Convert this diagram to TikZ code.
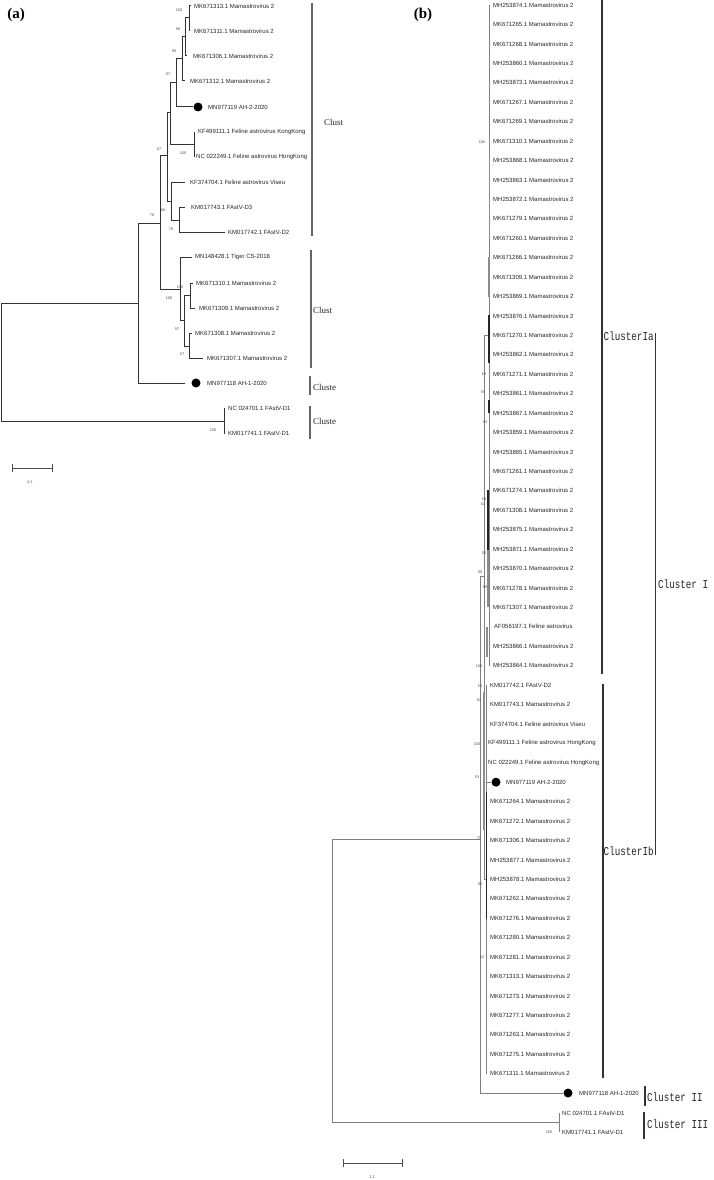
\documentclass[tikz,border=0pt]{standalone}
\usepackage{fontspec}
\newfontfamily\lsans{Liberation Sans}
\newfontfamily\lserif{Liberation Serif}
\newfontfamily\lmono[FakeStretch=0.77]{Liberation Mono}
\begin{document}
\begin{tikzpicture}[x=1pt,y=-1pt,
  lab/.style={anchor=west, inner sep=0pt, font=\lsans\fontsize{6}{7}\selectfont, text=black!85},
  bs/.style={inner sep=0pt, font=\lsans\fontsize{3.8}{4}\selectfont, text=black!70},
  ta/.style={line width=1pt, draw=black!80},
  tb/.style={line width=0.5pt, draw=black!50},
  segd/.style={line width=1.2pt, draw=black!85},
  segg/.style={line width=1.4pt, draw=black!45},
  cbarA/.style={line width=1.3pt, draw=black!60},
  cbarB/.style={line width=1.4pt, draw=black!80},
  clA/.style={anchor=west, inner sep=0pt, font=\lserif\fontsize{9}{10}\selectfont, text=black!85},
  clB/.style={anchor=west, inner sep=0pt, font=\lmono\fontsize{12}{13}\selectfont, text=black!85},
  dotn/.style={circle, fill=black, inner sep=0pt, minimum size=9pt},
  panel/.style={inner sep=0pt, font=\lserif\bfseries\fontsize{15}{16}\selectfont},
  scl/.style={line width=0.7pt, draw=black!70}]
\useasboundingbox (0,0) rectangle (713,1180);
\fill[white] (0,0) rectangle (713,1180);

% ---------------- panel (a) ----------------
\node[panel] (pa) at (16,15) {(a)};

% leaf tips
\coordinate (a1) at (191,6);
\coordinate (a2) at (190,31);
\coordinate (a3) at (187,56);
\coordinate (a4) at (185,81);
\coordinate (a6) at (194,132);
\coordinate (a7) at (194,157);
\coordinate (a8) at (185,182);
\coordinate (a9) at (185,207);
\coordinate (a10) at (225,232);
\coordinate (a11) at (192,257);
\coordinate (a12) at (193,283);
\coordinate (a13) at (195,308);
\coordinate (a14) at (192,333);
\coordinate (a15) at (203,358);
\coordinate (a16) at (185,383);
\coordinate (a17) at (225,408);
\coordinate (a18) at (225,433);
\node[dotn] (a5d) at (198,107) {};
\node[dotn] (a16d) at (196,383) {};

% labels
\node[lab] (ta1) at (194,6) {MK671313.1 Mamastrovirus 2};
\node[lab] (ta2) at (194,31) {MK671311.1 Mamastrovirus 2};
\node[lab] (ta3) at (193,56) {MK671306.1 Mamastrovirus 2};
\node[lab] (ta4) at (190,81) {MK671312.1 Mamastrovirus 2};
\node[lab] (ta5) at (208,107) {MN977119 AH-2-2020};
\node[lab] (ta6) at (198,132) {KF499111.1 Feline astrovirus KongKong};
\node[lab] (ta7) at (196,157) {NC 022249.1 Feline astrovirus HongKong};
\node[lab] (ta8) at (190,182) {KF374704.1 Feline astrovirus Viseu};
\node[lab] (ta9) at (191,207) {KM017743.1 FAstV-D3};
\node[lab] (ta10) at (228,232) {KM017742.1 FAstV-D2};
\node[lab] (ta11) at (195,257) {MN148428.1 Tiger CS-2018};
\node[lab] (ta12) at (196,283) {MK671310.1 Mamastrovirus 2};
\node[lab] (ta13) at (199,308) {MK671309.1 Mamastrovirus 2};
\node[lab] (ta14) at (195,333) {MK671308.1 Mamastrovirus 2};
\node[lab] (ta15) at (207,358) {MK671307.1 Mamastrovirus 2};
\node[lab] (ta16) at (207,383) {MN977118 AH-1-2020};
\node[lab] (ta17) at (228,408) {NC 024701.1 FAstV-D1};
\node[lab] (ta18) at (228,433) {KM017741.1 FAstV-D1};

% internal nodes
\coordinate (aR) at (1,303);
\coordinate (aA) at (138,303);
\coordinate (aD1) at (224,421);
\coordinate (aB) at (160,223);
\coordinate (aC) at (167,155);
\coordinate (aH) at (180,289);
\coordinate (aD) at (170,113);
\coordinate (aG) at (171,201);
\coordinate (aE) at (176,83);
\coordinate (aF) at (194,144);
\coordinate (aE2) at (182,59);
\coordinate (aE3) at (185,37);
\coordinate (aE4) at (189,18);
\coordinate (aG2) at (179,220);
\coordinate (aI) at (184,320);
\coordinate (aJ) at (190,295);
\coordinate (aK) at (189,346);

\draw[ta] (aR) |- (aA);
\draw[ta] (aR) |- (aD1);
\draw[ta] (aD1) |- (a17);
\draw[ta] (aD1) |- (a18);
\draw[ta] (aA) |- (aB);
\draw[ta] (aA) |- (a16);
\draw[ta] (aB) |- (aC);
\draw[ta] (aB) |- (aH);
\draw[ta] (aC) |- (aD);
\draw[ta] (aC) |- (aG);
\draw[ta] (aD) |- (aE);
\draw[ta] (aD) |- (aF);
\draw[ta] (aF) |- (a6);
\draw[ta] (aF) |- (a7);
\draw[ta] (aE) |- (aE2);
\draw[ta] (aE) |- (a5d.west);
\draw[ta] (aE2) |- (aE3);
\draw[ta] (aE2) |- (a4);
\draw[ta] (aE3) |- (aE4);
\draw[ta] (aE3) |- (a3);
\draw[ta] (aE4) |- (a1);
\draw[ta] (aE4) |- (a2);
\draw[ta] (aG) |- (a8);
\draw[ta] (aG) |- (aG2);
\draw[ta] (aG2) |- (a9);
\draw[ta] (aG2) |- (a10);
\draw[ta] (aH) |- (a11);
\draw[ta] (aH) |- (aI);
\draw[ta] (aI) |- (aJ);
\draw[ta] (aI) |- (aK);
\draw[ta] (aJ) |- (a12);
\draw[ta] (aJ) |- (a13);
\draw[ta] (aK) |- (a14);
\draw[ta] (aK) |- (a15);

% bootstrap values (a)
\node[bs] (ba1) at (179,10) {100};
\node[bs] (ba2) at (178,29) {99};
\node[bs] (ba3) at (174,51) {99};
\node[bs] (ba4) at (168,74) {97};
\node[bs] (ba5) at (159,149) {67};
\node[bs] (ba6) at (183,153) {100};
\node[bs] (ba7) at (163,210) {66};
\node[bs] (ba8) at (152,215) {78};
\node[bs] (ba9) at (171,229) {78};
\node[bs] (ba10) at (180,287) {100};
\node[bs] (ba11) at (169,298) {100};
\node[bs] (ba12) at (177,329) {97};
\node[bs] (ba13) at (182,354) {57};
\node[bs] (ba14) at (213,430) {100};

% cluster bars (a)
\coordinate (ca1t) at (312,3);   \coordinate (ca1b) at (312,236);
\coordinate (ca2t) at (311,250); \coordinate (ca2b) at (311,368);
\coordinate (ca3t) at (310,376); \coordinate (ca3b) at (310,395);
\coordinate (ca4t) at (310,406); \coordinate (ca4b) at (310,439);
\draw[cbarA] (ca1t) -- (ca1b);
\draw[cbarA] (ca2t) -- (ca2b);
\draw[cbarA] (ca3t) -- (ca3b);
\draw[cbarA] (ca4t) -- (ca4b);
\node[clA] (cla1) at (324,122) {Clust};
\node[clA] (cla2) at (313,310) {Clust};
\node[clA] (cla3) at (313,387) {Cluste};
\node[clA] (cla4) at (313,421) {Cluste};

% scale bar (a)
\coordinate (sa1) at (12,468); \coordinate (sa2) at (52,468);
\draw[scl] (sa1) -- (sa2);
\draw[scl] ([yshift=-4pt]sa1) -- ([yshift=4pt]sa1);
\draw[scl] ([yshift=-4pt]sa2) -- ([yshift=4pt]sa2);
\node[bs] (sal) at (30,482) {0.1};

% ---------------- panel (b) ----------------
\node[panel] (pb) at (423,15) {(b)};

% Cluster Ia leaves
\foreach \i/\t in {1/MH253874.1,2/MK671265.1,3/MK671268.1,4/MH253860.1,5/MH253873.1,
  6/MK671267.1,7/MK671269.1,8/MK671310.1,9/MH253868.1,10/MH253863.1,11/MH253872.1,
  12/MK671279.1,13/MK671260.1,14/MK671266.1,15/MK671309.1,16/MH253869.1,17/MH253876.1,
  18/MK671270.1,19/MH253862.1,20/MK671271.1,21/MH253861.1,22/MH253867.1,23/MH253859.1,
  24/MH253865.1,25/MK671261.1,26/MK671274.1,27/MK671308.1,28/MH253875.1,29/MH253871.1,
  30/MH253870.1,31/MK671278.1,32/MK671307.1,34/MH253866.1,35/MH253864.1}
  {\node[lab, inner xsep=3pt] (b\i) at (490,{5+19.43*(\i-1)}) {\t\ Mamastrovirus 2};}
\node[lab, inner xsep=4pt] (b33) at (490,{5+19.43*32}) {AF056197.1 Feline astrovirus};

% Cluster Ib leaves
\node[lab, inner xsep=4pt] (b36) at (486,{5+19.43*35}) {KM017742.1 FAstV-D2};
\node[lab, inner xsep=4pt] (b37) at (486,{5+19.43*36}) {KM017743.1 Mamastrovirus 2};
\node[lab, inner xsep=4pt] (b38) at (486,{5+19.43*37}) {KF374704.1 Feline astrovirus Viseu};
\node[lab, inner xsep=2pt] (b39) at (486,{5+19.43*38}) {KF499111.1 Feline astrovirus HongKong};
\node[lab, inner xsep=2pt] (b40) at (486,{5+19.43*39}) {NC 022249.1 Feline astrovirus HongKong};
\node[dotn] (b41d) at (496,{5+19.43*40}) {};
\node[lab] (b41) at (506,{5+19.43*40}) {MN977119 AH-2-2020};
\foreach \i/\t in {42/MK671264.1,43/MK671272.1,44/MK671306.1,45/MH253877.1,46/MH253878.1,
  47/MK671262.1,48/MK671276.1,49/MK671280.1,50/MK671281.1,51/MK671313.1,52/MK671273.1,
  53/MK671277.1,54/MK671263.1,55/MK671275.1,56/MK671311.1}
  {\node[lab, inner xsep=4pt] (b\i) at (486,{5+19.43*(\i-1)}) {\t\ Mamastrovirus 2};}

% Cluster II / III leaves
\node[dotn] (b57d) at (568,1093) {};
\node[lab] (b57) at (579,1093) {MN977118 AH-1-2020};
\node[lab, inner xsep=3pt] (b58) at (559,1113) {NC 024701.1 FAstV-D1};
\node[lab, inner xsep=3pt] (b59) at (559,1132) {KM017741.1 FAstV-D1};

% internal nodes (b)
\coordinate (bR) at (332,839);
\coordinate (bN1) at (480,839);
\coordinate (bD1) at (559,1122);
\coordinate (bN2) at (484,576);
\coordinate (bIa) at (489,335);
\coordinate (bIb) at (486,879);

\draw[tb] (bR) |- (bN1);
\draw[tb] (bR) |- (bD1);
\draw[tb] (bD1) |- (b58.west);
\draw[tb] (bD1) |- (b59.west);
\draw[tb] (bN1) |- (bN2);
\draw[tb] (bN1) |- (b57d.west);
\draw[tb] (bN2) |- (bIa);
\draw[tb] (bN2) |- (bIb);
\foreach \i in {1,...,35} {\draw[tb] (bIa) |- (b\i.west);}
\foreach \i in {36,...,40,42,43,...,56} {\draw[tb] (bIb) |- (b\i.west);}
\draw[tb] (bIb) |- (b41d.west);

% darker overlapping branch segments (b)
\draw[segg] (489.5,150) -- (489.5,237);
\draw[segg] (489,257) -- (489,297);
\draw[segd] (489,315) -- (489,363);
\draw[segd] (489,400) -- (489,413);
\draw[segd] (488,490) -- (488,550);
\draw[segg] (488,550) -- (488,607);
\draw[segg] (487,627) -- (487,657);
\draw[segg] (484,692) -- (484,830);
\draw[segd] (486.5,792) -- (486.5,919);

% bootstrap values (b)
\node[bs] (bb1) at (482,142) {100};
\node[bs] (bb2) at (484,374) {62};
\node[bs] (bb3) at (483,392) {55};
\node[bs] (bb4) at (485,422) {94};
\node[bs] (bb5) at (484,499) {58};
\node[bs] (bb6) at (483,504) {63};
\node[bs] (bb7) at (484,553) {50};
\node[bs] (bb8) at (480,572) {99};
\node[bs] (bb9) at (485,587) {99};
\node[bs] (bb10) at (479,666) {100};
\node[bs] (bb11) at (480,686) {50};
\node[bs] (bb12) at (479,700) {82};
\node[bs] (bb13) at (477,744) {100};
\node[bs] (bb14) at (477,777) {53};
\node[bs] (bb15) at (479,838) {75};
\node[bs] (bb16) at (480,884) {96};
\node[bs] (bb17) at (482,957) {62};
\node[bs] (bb18) at (549,1132) {100};

% cluster bars (b)
\coordinate (cIat) at (602,0);   \coordinate (cIab) at (602,674);
\coordinate (cIbt) at (603,684); \coordinate (cIbb) at (603,1078);
\coordinate (cIt) at (655.5,333);  \coordinate (cIb) at (655.5,855);
\coordinate (cIIt) at (645,1086); \coordinate (cIIb) at (645,1106);
\coordinate (cIIIt) at (644,1112); \coordinate (cIIIb) at (644,1139);
\draw[cbarB] (cIat) -- (cIab);
\draw[cbarB] (cIbt) -- (cIbb);
\draw[cbarB] (cIt) -- (cIb);
\draw[cbarB] (cIIt) -- (cIIb);
\draw[cbarB] (cIIIt) -- (cIIIb);
\node[clB] (clIa) at (603.5,336) {ClusterIa};
\node[clB] (clIb) at (603.5,851) {ClusterIb};
\node[clB] (clI) at (658,584) {Cluster I};
\node[clB] (clII) at (647,1097) {Cluster II};
\node[clB] (clIII) at (647,1124) {Cluster III};

% scale bar (b)
\coordinate (sb1) at (343,1163); \coordinate (sb2) at (402,1163);
\draw[scl] (sb1) -- (sb2);
\draw[scl] ([yshift=-4pt]sb1) -- ([yshift=4pt]sb1);
\draw[scl] ([yshift=-4pt]sb2) -- ([yshift=4pt]sb2);
\node[bs] (sbl) at (372,1177) {2.1};
\end{tikzpicture}
\end{document}
